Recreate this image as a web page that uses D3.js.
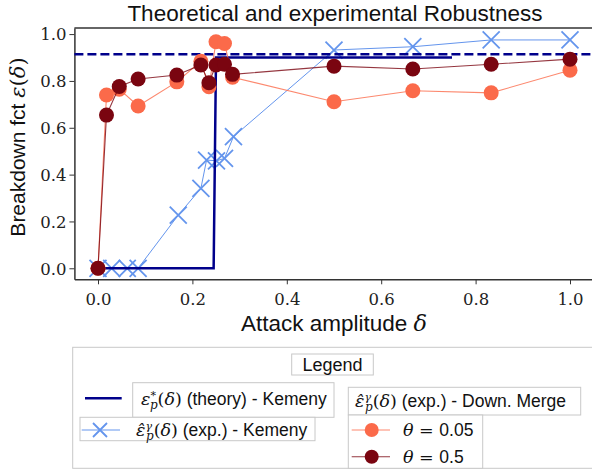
<!DOCTYPE html>
<html>
<head>
<meta charset="utf-8">
<script src="https://cdn.jsdelivr.net/npm/d3@7"></script>
<style>
  body { margin: 0; background: #fff; }
  .sans { font-family: "Liberation Sans", Arial, sans-serif; fill: #111; }
  .tick text { font-family: "DejaVu Serif", serif; font-size: 16.5px; fill: #222; }
  .tick line, .domain { stroke: #333; }
</style>
</head>
<body>
<svg class="plot" width="592" height="471"></svg>
<script>
// theoretical breakdown (Kemeny)
var theoryDelta = [0, 0.245, 0.25, 0.75],
    theoryVal   = [0, 0, 0.9, 0.9],
    theoryLimit = 0.914;

// experimental Kemeny
var kemDelta = [0, 0.029, 0.062, 0.085, 0.17, 0.218, 0.23, 0.251, 0.268, 0.287, 0.5, 0.667, 0.833, 1.0],
    kemVal   = [0, 0, 0, 0, 0.227, 0.341, 0.462, 0.459, 0.469, 0.562, 0.932, 0.946, 0.975, 0.975];

// experimental Downward Merge
var dmDelta  = [0, 0.018, 0.045, 0.085, 0.167, 0.218, 0.235, 0.25, 0.268, 0.285, 0.5, 0.667, 0.833, 1.0],
    dmTheta005 = [0, 0.74, 0.765, 0.693, 0.796, 0.884, 0.775, 0.967, 0.96, 0.816, 0.711, 0.758, 0.749, 0.846],
    dmTheta05  = [0, 0.654, 0.776, 0.808, 0.825, 0.868, 0.792, 0.868, 0.871, 0.828, 0.863, 0.851, 0.871, 0.893];

var xTicks = [0, 0.2, 0.4, 0.6, 0.8, 1.0],
    yTicks = [0, 0.2, 0.4, 0.6, 0.8, 1.0];

var navy = "#00008b", blue = "#6495ed", orange = "#fb6a4a", dark = "#7a0510";

var svg = d3.select(".plot"),
    pLeft = 74.4, pRight = 593.6, pTop = 28, pBottom = 279.3;

var x = d3.scaleLinear().domain([-0.05, 1.05]).range([pLeft, pRight]),
    y = d3.scaleLinear().domain([-0.047, 1.026]).range([pBottom, pTop]);

function zip(xs, ys) { return xs.map(function(d, i) { return [d, ys[i]]; }); }
var line = d3.line().x(function(d) { return x(d[0]); }).y(function(d) { return y(d[1]); });

//axes
svg.append("g")
    .attr("transform", "translate(0," + pBottom + ")")
    .call(d3.axisBottom(x).tickValues(xTicks).tickFormat(d3.format(".1f")).tickSize(5).tickSizeOuter(0))
    .call(function(g) { g.selectAll("text").attr("dy", "1.1em"); });
svg.append("g")
    .attr("transform", "translate(" + pLeft + ",0)")
    .call(d3.axisLeft(y).tickValues(yTicks).tickFormat(d3.format(".1f")).tickSize(5).tickSizeOuter(0))
    .call(function(g) { g.selectAll("text").attr("dy", "0.35em").attr("x", -8); });
svg.selectAll(".domain").attr("stroke-width", 1.5);
svg.append("line").attr("x1", pLeft).attr("x2", 592).attr("y1", pTop).attr("y2", pTop)
    .attr("stroke", "#333").attr("stroke-width", 1.5);

// X marker path
function cross(s) { return "M" + (-s) + "," + (-s) + "L" + s + "," + s + "M" + (-s) + "," + s + "L" + s + "," + (-s); }

// Kemeny experimental
var kem = zip(kemDelta, kemVal);
svg.append("path").datum(kem).attr("d", line)
    .attr("fill", "none").attr("stroke", blue).attr("stroke-width", 1);
svg.selectAll(".kem").data(kem).enter().append("path")
    .attr("class", "kem")
    .attr("transform", function(d) { return "translate(" + x(d[0]) + "," + y(d[1]) + ")"; })
    .attr("d", cross(8.5))
    .attr("stroke", blue).attr("stroke-width", 1.8).attr("fill", "none");

// theory
svg.append("path").datum(zip(theoryDelta, theoryVal)).attr("d", line)
    .attr("fill", "none").attr("stroke", navy).attr("stroke-width", 2.5);
svg.append("line")
    .attr("x1", pLeft).attr("x2", pRight)
    .attr("y1", y(theoryLimit)).attr("y2", y(theoryLimit))
    .attr("stroke", navy).attr("stroke-width", 2.5).attr("stroke-dasharray", "9,4");

// downward merge
[[dmTheta005, orange], [dmTheta05, dark]].forEach(function(s) {
  var pts = zip(dmDelta, s[0]);
  svg.append("path").datum(pts).attr("d", line)
      .attr("fill", "none").attr("stroke", s[1]).attr("stroke-width", 1.1).attr("stroke-opacity", 0.8);
  svg.append("g").selectAll("circle").data(pts).enter().append("circle")
      .attr("cx", function(d) { return x(d[0]); })
      .attr("cy", function(d) { return y(d[1]); })
      .attr("r", 7.5)
      .attr("fill", s[1]);
});

// title + labels
svg.append("text").attr("class", "sans")
    .attr("x", 335).attr("y", 21).attr("text-anchor", "middle")
    .style("font-size", "22.5px").text("Theoretical and experimental Robustness");

var xl = svg.append("text").attr("class", "sans")
    .attr("x", 334).attr("y", 331).attr("text-anchor", "middle").style("font-size", "22.5px");
xl.append("tspan").text("Attack amplitude ");
xl.append("tspan").style("font-family", "DejaVu Serif").style("font-style", "italic").text("δ");

var yl = svg.append("text").attr("class", "sans")
    .attr("transform", "translate(25,147) rotate(-90)").attr("text-anchor", "middle").style("font-size", "21px");
yl.append("tspan").text("Breakdown fct ");
yl.append("tspan").style("font-family", "DejaVu Serif").style("font-style", "italic").text("ε");
yl.append("tspan").style("font-family", "DejaVu Serif").text("(");
yl.append("tspan").style("font-family", "DejaVu Serif").style("font-style", "italic").text("δ");
yl.append("tspan").style("font-family", "DejaVu Serif").text(")");

// legend
var leg = svg.append("g");
function box(x0, y0, x1, y1) {
  leg.append("rect").attr("x", x0).attr("y", y0).attr("width", x1 - x0).attr("height", y1 - y0)
      .attr("fill", "#fff").attr("stroke", "#c8c8c8").attr("stroke-width", 1);
}
box(72.7, 347.3, 600, 468.3);
box(291.7, 354, 373.3, 375);
leg.append("text").attr("class", "sans").attr("x", 332.5).attr("y", 371)
    .attr("text-anchor", "middle").style("font-size", "18px").text("Legend");

// math label: eps with optional hat, sup, sub
function mathLabel(tx, ty, hat, sup, rest) {
  var t = leg.append("text").attr("class", "sans").attr("x", tx).attr("y", ty).style("font-size", "17.5px");
  var m = function() { return t.append("tspan").style("font-family", "DejaVu Serif").style("font-style", "italic"); };
  m().text(hat ? "ε\u0302" : "ε");
  m().attr("dy", -6).style("font-size", "11px").text(sup);
  m().attr("dx", -6).attr("dy", 10).style("font-size", "12px").text("p");
  t.append("tspan").attr("dy", -4).style("font-family", "DejaVu Serif").text("(");
  m().text("δ");
  t.append("tspan").style("font-family", "DejaVu Serif").text(")");
  t.append("tspan").text(rest);
}

box(132.7, 382.7, 334, 417.3);
leg.append("line").attr("x1", 85).attr("x2", 121.7).attr("y1", 398.3).attr("y2", 398.3)
    .attr("stroke", navy).attr("stroke-width", 2.5);
mathLabel(141, 405, false, "*", " (theory) - Kemeny");

box(80, 417.3, 315, 440.7);
leg.append("line").attr("x1", 81.7).attr("x2", 120).attr("y1", 430).attr("y2", 430)
    .attr("stroke", blue).attr("stroke-width", 1);
leg.append("path").attr("transform", "translate(100,430)").attr("d", cross(7))
    .attr("stroke", blue).attr("stroke-width", 1.8);
mathLabel(136, 436, true, "γ", " (exp.) - Kemeny");

box(348.3, 387.3, 580.7, 415);
mathLabel(355, 407, true, "γ", " (exp.) - Down. Merge");

box(348.3, 415, 482.7, 468.3);
[[orange, 430, "0.05"], [dark, 456.7, "0.5"]].forEach(function(s) {
  leg.append("line").attr("x1", 351.7).attr("x2", 390).attr("y1", s[1]).attr("y2", s[1])
      .attr("stroke", s[0]).attr("stroke-width", 1.1).attr("stroke-opacity", 0.8);
  leg.append("circle").attr("cx", 371.7).attr("cy", s[1]).attr("r", 7).attr("fill", s[0]);
  var t = leg.append("text").attr("class", "sans").attr("x", 403).attr("y", s[1] + 6).style("font-size", "17.5px");
  t.append("tspan").style("font-family", "DejaVu Serif").style("font-style", "italic").text("θ");
  t.append("tspan").style("font-family", "DejaVu Serif").text(" = ");
  t.append("tspan").text(s[2]);
});
</script>
</body>
</html>
